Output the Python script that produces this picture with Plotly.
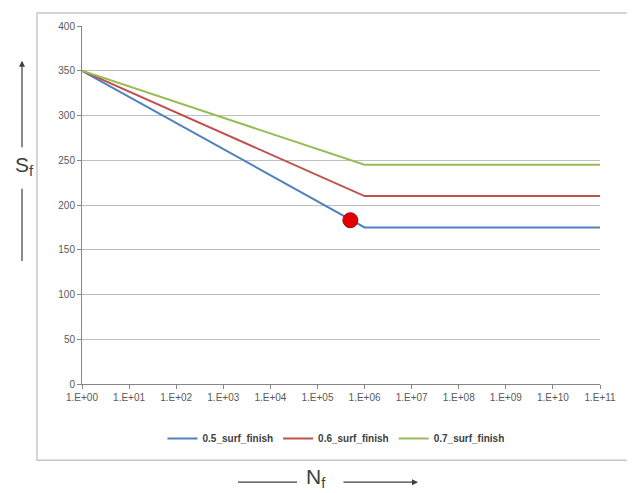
import plotly.graph_objects as go

cycles = [1, 1e6, 1e11]
s_05 = [350, 175, 175]
s_06 = [350, 210, 210]
s_07 = [350, 245, 245]
series_names = ["0.5_surf_finish", "0.6_surf_finish", "0.7_surf_finish"]
point_n = [5e5]
point_s = [183]
tick_vals = [10 ** i for i in range(12)]
tick_text = ["1.E+%02d" % i for i in range(12)]

colors = ["#4F81BD", "#C0504D", "#9BBB59"]

fig = go.Figure()
for name, vals, c in zip(series_names, [s_05, s_06, s_07], colors):
    fig.add_trace(go.Scatter(x=cycles, y=vals, mode="lines", name=name,
                             line=dict(color=c, width=2)))
fig.add_trace(go.Scatter(x=point_n, y=point_s, mode="markers", showlegend=False,
                         marker=dict(color="#E00000", size=15,
                                     line=dict(color="#B00000", width=1))))

# page body has an 8px margin; coordinates below are page pixels
OFF = 8
W, H = 635 - OFF, 493 - OFF
L, T = 82 - OFF, 23 - OFF
R = W - (600 - OFF)
B = H - (384 - OFF)
pw, ph = W - L - R, H - T - B


def px(x):
    return (x - OFF - L) / pw


def py(y):
    return (H - B - (y - OFF)) / ph


tick_font = dict(size=10, color="#595959", family="Liberation Sans, Arial")

fig.update_layout(
    width=W, height=H,
    margin=dict(l=L, r=R, t=T, b=B),
    paper_bgcolor="white", plot_bgcolor="white",
    font=dict(family="Liberation Sans, Arial", size=10, color="#595959"),
    showlegend=True,
    legend=dict(orientation="h", x=px(336), xanchor="center", y=py(439), yanchor="middle",
                font=dict(size=10, color="#404040", weight="bold"),
                bgcolor="rgba(0,0,0,0)", itemwidth=30),
    xaxis=dict(type="log", range=[0, 11], tickvals=tick_vals, ticktext=tick_text,
               showgrid=False, showline=True, linecolor="#868686", linewidth=1,
               ticks="outside", ticklen=4, tickcolor="#868686", zeroline=False,
               tickfont=tick_font),
    yaxis=dict(range=[0, 400], dtick=50, showgrid=True, gridcolor="#BFBFBF", gridwidth=1,
               showline=True, linecolor="#868686", linewidth=1,
               ticks="outside", ticklen=4, tickcolor="#868686", zeroline=False,
               tickfont=tick_font),
)

# chart border box
fig.add_shape(type="rect", xref="paper", yref="paper",
              x0=px(37), x1=px(631), y0=py(461), y1=py(10),
              line=dict(color="#C8C8C8", width=1.5), layer="below")

label_font = dict(size=21, color="#404040", family="Liberation Sans Narrow, Liberation Sans, Arial")

# S_f label with arrows
fig.add_annotation(xref="paper", yref="paper", x=px(22), y=py(58), ax=0, ay=88,
                   text="", showarrow=True, arrowhead=2, arrowsize=1, arrowwidth=1.2,
                   arrowcolor="#404040")
fig.add_shape(type="line", xref="paper", yref="paper", x0=px(22), x1=px(22),
              y0=py(187), y1=py(260), line=dict(color="#404040", width=1.2))
fig.add_annotation(xref="paper", yref="paper", x=px(14), xanchor="left", y=py(164),
                   showarrow=False, text="S<sub>f</sub>", font=label_font, borderpad=0)

# N_f label with arrows
fig.add_shape(type="line", xref="paper", yref="paper", x0=px(238), x1=px(297),
              y0=py(483), y1=py(483), line=dict(color="#404040", width=1.2))
fig.add_annotation(xref="paper", yref="paper", x=px(418), y=py(483), ax=-76, ay=0,
                   text="", showarrow=True, arrowhead=2, arrowsize=1, arrowwidth=1.2,
                   arrowcolor="#404040")
fig.add_annotation(xref="paper", yref="paper", x=px(316), y=py(493), yanchor="bottom",
                   showarrow=False, text="N<sub>f</sub>", font=label_font, borderpad=0)

fig.write_html("out.html")
